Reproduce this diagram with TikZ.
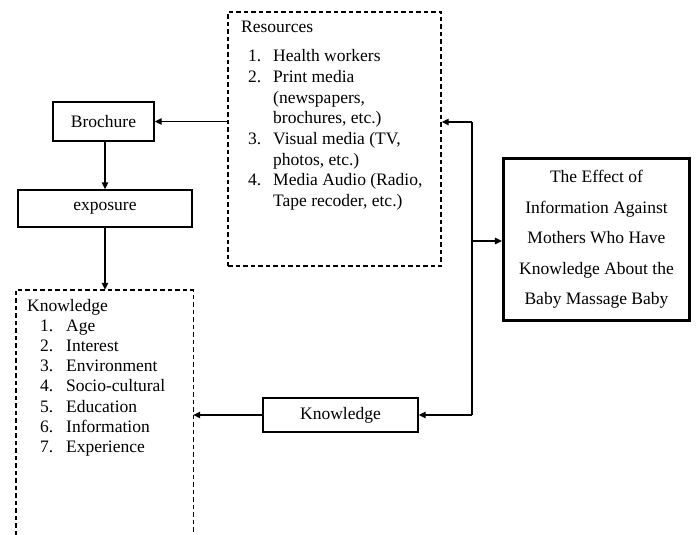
\documentclass[tikz,border=0pt]{standalone}
\usepackage{fontspec}
\setmainfont{Liberation Serif}
\usetikzlibrary{arrows.meta}
\begin{document}
\begin{tikzpicture}[x=1pt,y=-1pt,
  every node/.style={font=\fontsize{17.5}{21}\selectfont, inner sep=0pt},
  box/.style={draw, line width=1.4pt},
  dbox/.style={draw, line width=1.4pt, dash pattern=on 4.5pt off 3pt},
  txt/.style={anchor=base west},
  arr/.style={line width=1.4pt, -{Triangle[length=7pt,width=6.5pt]}},
  ln/.style={line width=1.4pt}]
\useasboundingbox (0,0) rectangle (696,535);
% boxes
\node[box, minimum width=101pt, minimum height=39pt] (bro) at (103.5,121.5) {Brochure};
\node[box, minimum width=174pt, minimum height=37pt] (exp) at (105,208.5) {exposure};
\node[box, minimum width=155pt, minimum height=34pt] (kbox) at (340.5,415) {Knowledge};
\node[draw, line width=3.2pt, minimum width=186pt, minimum height=162pt, align=center,
      font=\fontsize{17.5}{30.5}\selectfont] (eff) at (596.5,239.5)
  {The Effect of\\Information Against\\Mothers Who Have\\Knowledge About the\\Baby Massage Baby};
\node[dbox, minimum width=213pt, minimum height=254pt] (res) at (334.5,139) {};
\node[minimum width=177pt, minimum height=245pt] (know) at (104.5,412.5) {};
\draw[ln, dash pattern=on 4.5pt off 3pt] (know.south west) -- (know.north west) -- (know.north east) -- (know.south east);
% resources text
\node[txt] (rt) at (241,33) {Resources};
\node[txt] (rn1) at (248,62) {1.};
\node[txt] (rn2) at (248,82.6) {2.};
\node[txt] (rn3) at (248,144.4) {3.};
\node[txt] (rn4) at (248,185.6) {4.};
\node[txt] (ri1) at (273,62) {Health workers};
\node[txt] (ri2) at (273,82.6) {Print media};
\node[txt] (ri3) at (273,103.2) {(newspapers,};
\node[txt] (ri4) at (273,123.8) {brochures, etc.)};
\node[txt] (ri5) at (273,144.4) {Visual media (TV,};
\node[txt] (ri6) at (273,165) {photos, etc.)};
\node[txt] (ri7) at (273,185.6) {Media Audio (Radio,};
\node[txt] (ri8) at (273,206.2) {Tape recoder, etc.)};
% knowledge text
\node[txt] (kt) at (27,311) {Knowledge};
\foreach \t [count=\i] in {Age,Interest,Environment,Socio-cultural,Education,Information,Experience}{
  \node[txt] (kn\i) at (40,331+20.3*\i-20.3) {\i.};
  \node[txt] (ki\i) at (66,331+20.3*\i-20.3) {\t};
}
% connectors
\coordinate (j1) at (472,122);
\coordinate (j2) at (472,241);
\coordinate (j3) at (472,415);
\draw[arr] (res.west |- bro.east) -- (bro.east);
\draw[arr] (bro.south -| exp.north) -- (exp.north);
\draw[arr] (exp.south) -- (exp.south |- know.north);
\draw[ln] (j1) -- (j3);
\draw[arr] (j1) -- (j1 -| res.east);
\draw[arr] (j2) -- (j2 -| eff.west);
\draw[arr] (j3) -- (kbox.east);
\draw[arr] (kbox.west) -- (kbox.west -| know.east);
\end{tikzpicture}
\end{document}
